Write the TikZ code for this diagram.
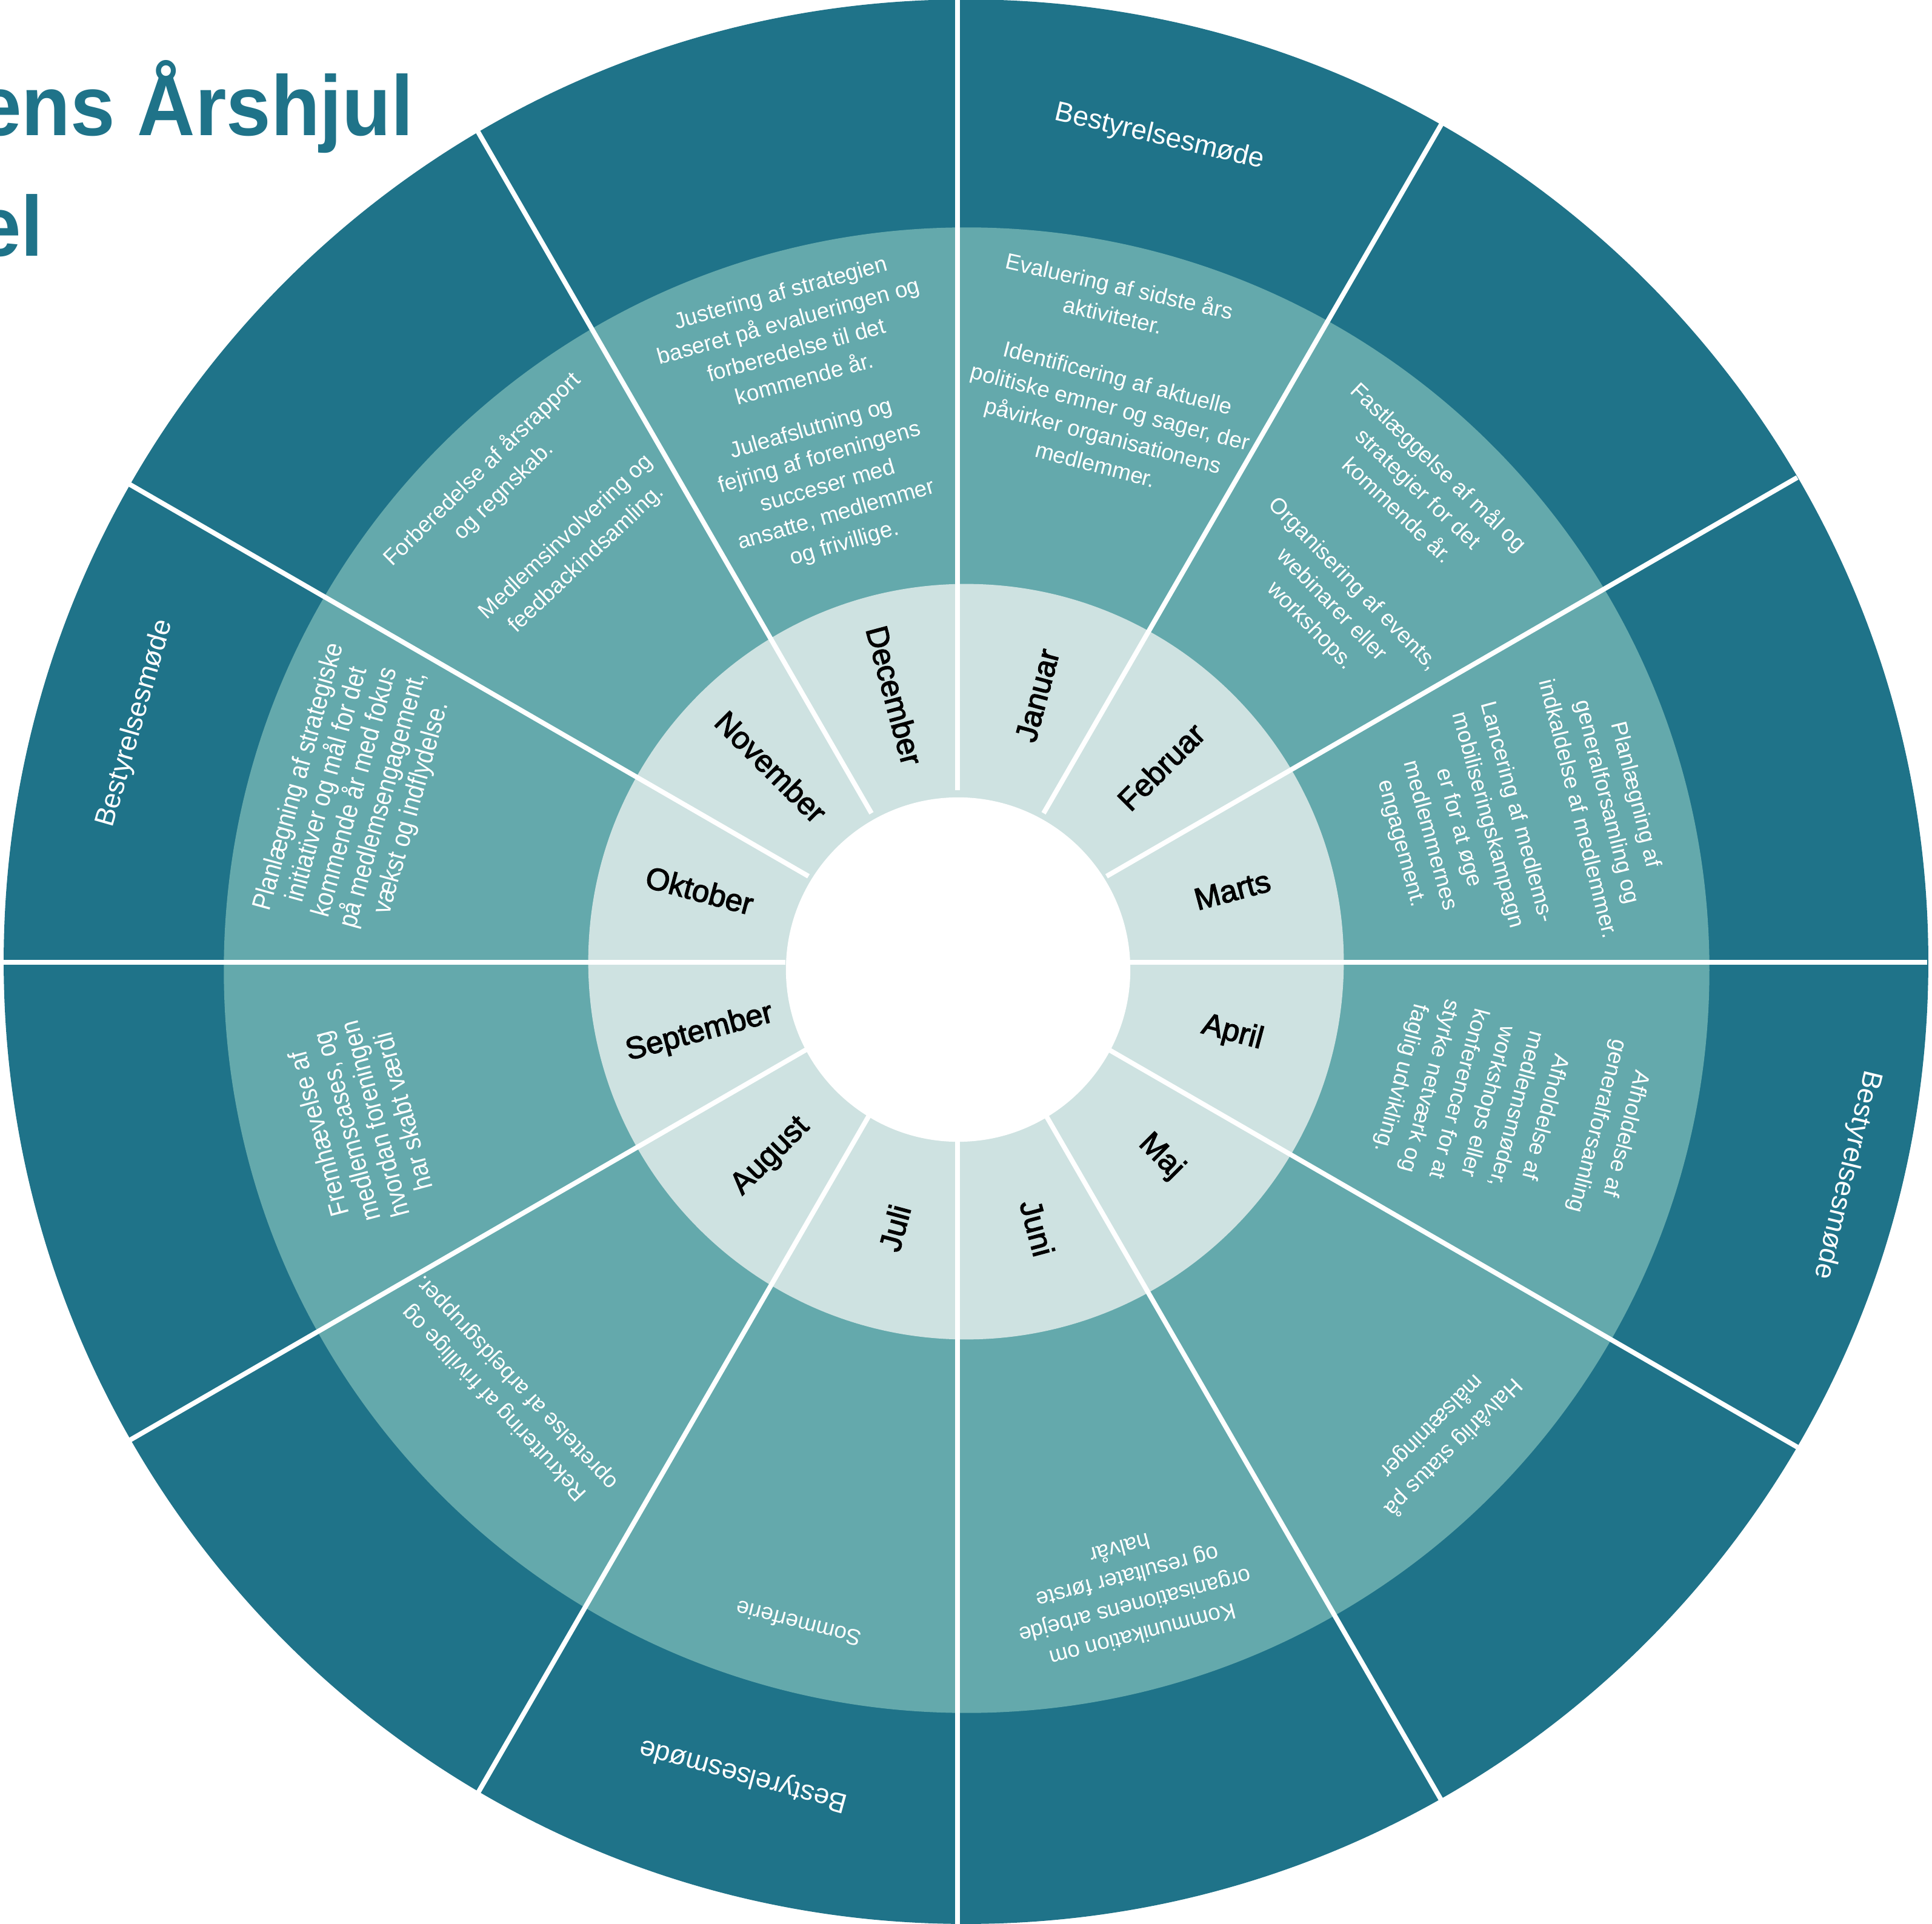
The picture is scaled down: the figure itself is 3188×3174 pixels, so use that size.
\documentclass[tikz,border=0pt]{standalone}
\usepackage{fontspec}
\setmainfont{Liberation Sans}
\newfontfamily\titlefont{Liberation Sans}[FakeStretch=0.94]
\newfontfamily\narrowfont{Liberation Sans}[FakeStretch=0.88]
\newfontfamily\monthfont{Liberation Sans}[FakeBold=2.5]
\usetikzlibrary{calc,positioning}
\definecolor{wheeldark}{HTML}{1F7389}
\definecolor{wheelmid}{HTML}{64A9AC}
\definecolor{wheellight}{HTML}{CEE2E1}
\tikzset{
  act/.style={text=white, align=center, inner sep=0pt, font=\fontsize{10.5}{14}\selectfont},
  actnarrow/.style={act, font=\narrowfont\fontsize{12.5}{13.7}\selectfont},
  board/.style={text=white, inner sep=0pt, font=\fontsize{13}{15}\selectfont},
  month/.style={text=black, inner sep=0pt, font=\monthfont\fontsize{14.5}{16}\selectfont},
  title/.style={text=wheeldark, inner sep=0pt, anchor=base east, font=\titlefont\bfseries\fontsize{40}{48}\selectfont}
}

\begin{document}
\begin{tikzpicture}[x=0.01cm,y=0.01cm]
  \useasboundingbox (0,0) rectangle (3188,3174);
  \coordinate (c) at (1594,1587);
  \coordinate (m) at (1595,1573);
  \coordinate (d) at (1580,1586);
  \coordinate (w) at (1581,1574);

  \fill[wheeldark] (c) circle (15.87cm);
  \fill[wheelmid] (m) circle (12.25cm);
  \fill[wheellight] (c) circle (6.23cm);
  \fill[white] (w) circle (2.84cm);
  \foreach \a in {0,30,...,330}
    \draw[white, line width=0.08cm] ($(d)+(\a:284)$) -- ($(d)+(\a:1600)$);

  \foreach \m [count=\i from 0] in {Januar,Februar,Marts,April,Maj,Juni,Juli,August,September,Oktober,November,December}{
    \pgfmathsetmacro\a{75-30*\i}
    \pgfmathsetmacro\r{ifthenelse(cos(\a)>=0,\a,\a+180)}
    \node[month, rotate=\r] (m-\i) at ($(c)+(\a:455)$) {\m};
  }

  \node[board, rotate=-13.2] (board-jan) at ($(c)+(76.8:1398)$) {Bestyrelsesmøde};
  \node[board, rotate=-103.6] (board-apr) at ($(c)+(-13.6:1495)$) {Bestyrelsesmøde};
  \node[board, rotate=164.7] (board-jul) at ($(c)+(-105.3:1391)$) {Bestyrelsesmøde};
  \node[board, rotate=74] (board-okt) at ($(c)+(164:1426)$) {Bestyrelsesmøde};

  \node[act, rotate=-12.8] (jan-a) at ($(c)+(77.2:1120)$) {Evaluering af sidste års\\aktiviteter.};
  \node[act, rotate=-14.6] (jan-b) at ($(c)+(75.4:922)$) {Identificering af aktuelle\\politiske emner og sager, der\\påvirker organisationens\\medlemmer.};
  \node[act, rotate=-43.7] (feb-a) at ($(c)+(46.3:1082)$) {Fastlæggelse af mål og\\strategier for det\\kommende år.};
  \node[act, rotate=-45.7] (feb-b) at ($(c)+(44.3:842)$) {Organisering af events,\\webinarer eller\\workshops.};
  \node[act, rotate=-76] (mar-a) at ($(c)+(14:1092)$) {Planlægning af\\generalforsamling og\\indkaldelse af medlemmer.};
  \node[act, rotate=-74.8] (mar-b) at ($(c)+(15.2:842)$) {Lancering af medlems-\\mobiliseringskampagn\\er for at øge\\medlemmernes\\engagement.};
  \node[act, rotate=-104.6] (apr-a) at ($(c)+(-14.6:1100)$) {Afholdelse af\\generalforsamling};
  \node[act, rotate=-105] (apr-b) at ($(c)+(-15:865)$) {Afholdelse af\\medlemsmøder,\\workshops eller\\konferencer for at\\styrke netværk og\\faglig udvikling.};
  \node[act, rotate=-134.9] (maj-a) at ($(c)+(-44.9:1110)$) {Halvårlig status på\\målsætninger};
  \node[act, rotate=-165.3] (jun-a) at ($(c)+(-75.3:1075)$) {Kommunikation om\\organisationens arbejde\\og resultater første\\halvår};
  \node[act, rotate=165.8] (jul-a) at ($(c)+(-104.2:1127)$) {Sommerferie};
  \node[act, rotate=133.1] (aug-a) at ($(c)+(-136.9:1040)$) {Rekruttering af frivillige og\\oprettelse af arbejdsgrupper.};
  \node[actnarrow, rotate=104.9] (sep-a) at ($(c)+(194.9:1034)$) {Fremhævelse af\\medlemscases, og\\hvordan foreningen\\har skabt værdi};
  \node[actnarrow, rotate=74.5] (okt-a) at ($(c)+(164.5:1045)$) {Planlægning af strategiske\\initiativer og mål for det\\kommende år med fokus\\på medlemsengagement,\\vækst og indflydelse.};
  \node[act, rotate=44.5] (nov-a) at ($(c)+(134.5:1114)$) {Forberedelse af årsrapport\\og regnskab.};
  \node[act, rotate=43.3] (nov-b) at ($(c)+(133.3:937)$) {Medlemsinvolvering og\\feedbackindsamling.};
  \node[act, rotate=15.5] (dec-a) at ($(c)+(105.5:1073)$) {Justering af strategien\\baseret på evalueringen og\\forberedelse til det\\kommende år.};
  \node[act, rotate=16.2] (dec-b) at ($(c)+(106.2:816)$) {Juleafslutning og\\fejring af foreningens\\succeser med\\ansatte, medlemmer\\og frivillige.};

  \node[title] (title-a) at (683,2950) {ens Årshjul};
  \node[title] (title-b) at (72,2751) {el};
\end{tikzpicture}
\end{document}
